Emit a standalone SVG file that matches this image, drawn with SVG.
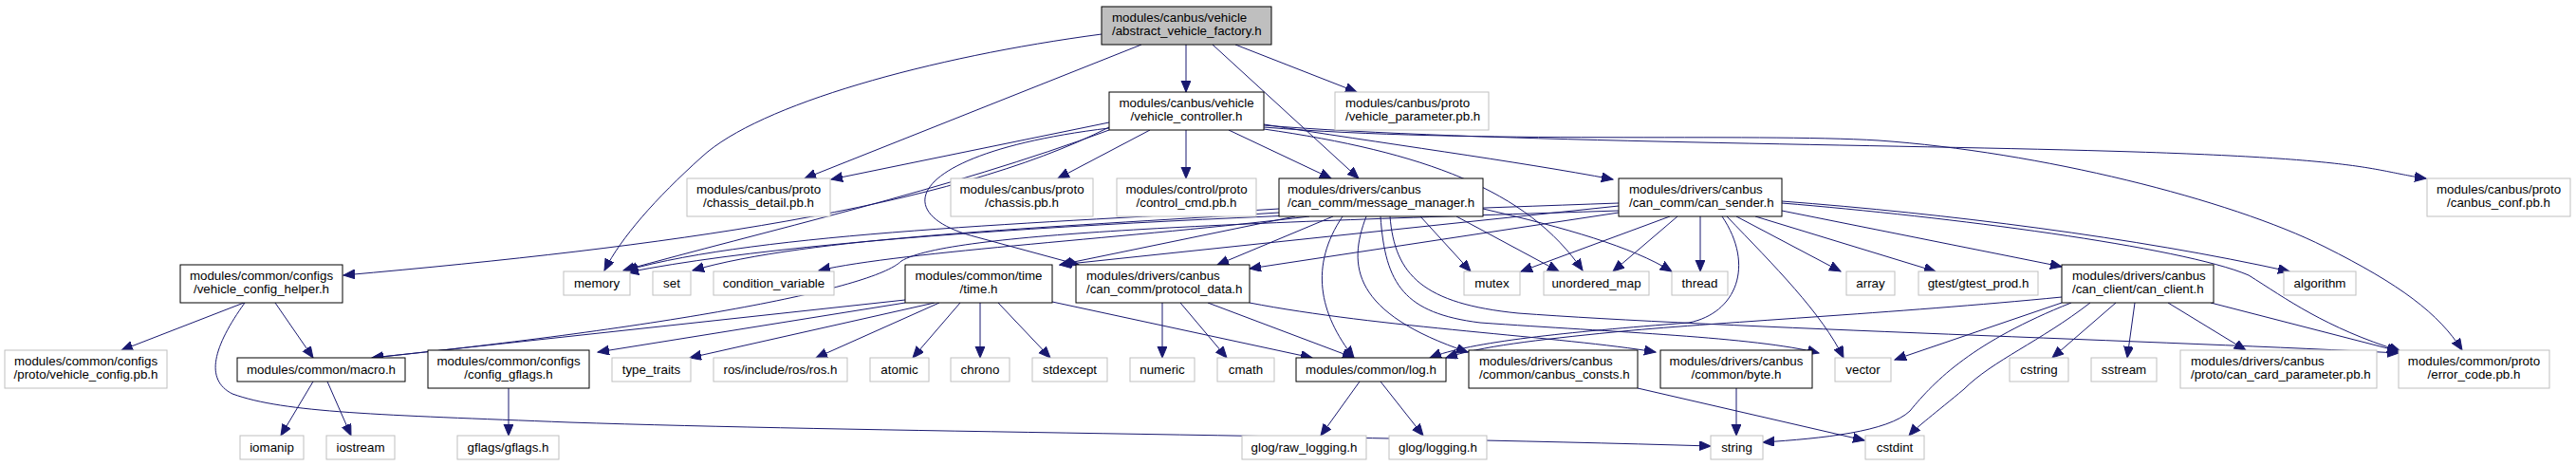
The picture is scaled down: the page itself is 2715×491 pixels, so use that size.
<svg xmlns="http://www.w3.org/2000/svg" width="2715" height="491" viewBox="0 0 2715 491">
<style>
.n rect{fill:#fff;stroke:#000;stroke-width:1}
.x rect{fill:#fff;stroke:#bfbfbf;stroke-width:1}
.r rect{fill:#bfbfbf;stroke:#000;stroke-width:1}
text{font-family:"Liberation Sans",Arial,Helvetica,sans-serif;font-size:13.33px;fill:#000}
.m{text-anchor:middle}
#edges path{fill:none;stroke:#191970;stroke-width:1;marker-end:url(#a)}
</style>
<defs>
<marker id="a" markerUnits="userSpaceOnUse" markerWidth="13" markerHeight="11" refX="12" refY="5" orient="auto" viewBox="0 0 13 11">
<path d="M0,0 L12,5 L0,10 z" fill="#191970" stroke="#191970"/>
</marker>
</defs>
<rect width="2715" height="491" fill="#fff"/>
<g id="edges">
<path d="M1161,36 C980,60 800,110 740,165 C690,210 655,250 637,285"/>
<path d="M1203,47 L848,188"/>
<path d="M1250,47 L1250,97"/>
<path d="M1278,47 L1432,188"/>
<path d="M1302,47 L1430,97"/>
<path d="M1169,129 L876,189"/>
<path d="M1212,137 L1115,188"/>
<path d="M1250,137 L1250,188"/>
<path d="M1295,137 L1403,188"/>
<path d="M1332,131 C1450,150 1600,170 1700,189"/>
<path d="M1332,132 C1550,150 2000,152 2250,160 S2500,180 2557,188"/>
<path d="M1332,134 C1550,152 1850,140 1980,148 C2150,160 2350,210 2450,260 C2530,300 2570,330 2595,369"/>
<path d="M1169,134 C1000,220 700,260 362,290"/>
<path d="M1169,137 C1000,200 800,245 657,285"/>
<path d="M1332,136 C1500,160 1610,200 1668,285"/>
<path d="M1169,135 C960,160 930,225 1030,250 L1137,279"/>
<path d="M1348,220 C1100,235 800,245 660,285"/>
<path d="M1348,224 C1100,240 850,250 730,285"/>
<path d="M1380,228 C1200,250 950,265 863,285"/>
<path d="M1497,228 L1550,286"/>
<path d="M1535,228 L1643,286"/>
<path d="M1563,220 C1650,240 1720,260 1762,286"/>
<path d="M1365,228 L1117,279"/>
<path d="M1405,228 L1283,279"/>
<path d="M1415,228 C1380,280 1390,330 1427,377"/>
<path d="M1440,228 C1420,280 1425,330 1547,371"/>
<path d="M1455,228 C1460,300 1480,330 1560,340 C1700,350 1850,355 1917,372"/>
<path d="M1465,228 C1470,290 1500,320 1600,330 C1800,345 2300,360 2528,372"/>
<path d="M1706,214 C1400,225 900,240 661,287"/>
<path d="M1706,217 L1117,279"/>
<path d="M1706,222 C1300,235 1000,245 950,275 C920,305 700,345 392,377"/>
<path d="M1760,228 L1603,286"/>
<path d="M1768,228 L1700,286"/>
<path d="M1792,228 L1792,286"/>
<path d="M1830,228 L1940,286"/>
<path d="M1850,228 L2040,286"/>
<path d="M1878,222 L2173,281"/>
<path d="M1878,212 C2050,225 2250,250 2413,286"/>
<path d="M1878,214 C2050,228 2300,260 2370,290 C2410,315 2450,345 2530,370"/>
<path d="M1820,228 C1870,280 1920,330 1943,377"/>
<path d="M1706,224 L1317,283"/>
<path d="M1815,228 C1850,280 1830,330 1780,340 C1650,350 1550,360 1507,377"/>
<path d="M257,319 L128,369"/>
<path d="M290,319 L330,377"/>
<path d="M258,319 C225,365 215,400 245,415 C300,435 400,437 600,445 C900,455 1400,458 1803,470"/>
<path d="M330,402 L296,459"/>
<path d="M345,402 L370,459"/>
<path d="M536,409 L536,459"/>
<path d="M954,316 L392,377"/>
<path d="M954,319 L630,371"/>
<path d="M985,319 L727,377"/>
<path d="M990,319 L860,377"/>
<path d="M1012,319 L962,377"/>
<path d="M1033,319 L1033,377"/>
<path d="M1052,319 L1107,377"/>
<path d="M1109,318 L1383,377"/>
<path d="M1225,319 L1225,377"/>
<path d="M1244,319 L1293,377"/>
<path d="M1273,319 L1427,377"/>
<path d="M1317,319 C1450,345 1650,355 1745,371"/>
<path d="M1433,402 L1392,459"/>
<path d="M1455,402 L1500,459"/>
<path d="M1726,409 L1965,464"/>
<path d="M1830,409 L1830,459"/>
<path d="M2173,313 C2000,330 1800,340 1700,350 C1620,358 1560,365 1524,377"/>
<path d="M2173,319 L1997,379"/>
<path d="M2183,319 C2080,360 2040,400 2013,433 C1990,455 1920,462 1858,466"/>
<path d="M2203,319 C2150,360 2100,380 2070,410 C2040,435 2020,450 2012,459"/>
<path d="M2230,319 L2163,377"/>
<path d="M2250,319 L2242,377"/>
<path d="M2285,319 L2367,369"/>
<path d="M2330,319 L2528,370"/>
</g>
<g id="n_avf" class="r"><rect x="1161" y="7" width="179" height="40"/><text x="1172" y="23">modules/canbus/vehicle</text><text x="1172" y="37">/abstract_vehicle_factory.h</text></g>
<g id="n_vc" class="n"><rect x="1169" y="97" width="163" height="40"/><text class="m" x="1250.5" y="113">modules/canbus/vehicle</text><text class="m" x="1250.5" y="127">/vehicle_controller.h</text></g>
<g id="n_vp" class="x"><rect x="1407" y="97" width="162" height="40"/><text x="1418" y="113">modules/canbus/proto</text><text x="1418" y="127">/vehicle_parameter.pb.h</text></g>
<g id="n_cd" class="x"><rect x="724" y="188" width="151" height="40"/><text class="m" x="799.5" y="204">modules/canbus/proto</text><text class="m" x="799.5" y="218">/chassis_detail.pb.h</text></g>
<g id="n_ch" class="x"><rect x="1002" y="188" width="150" height="40"/><text class="m" x="1077" y="204">modules/canbus/proto</text><text class="m" x="1077" y="218">/chassis.pb.h</text></g>
<g id="n_cc" class="x"><rect x="1177" y="188" width="147" height="40"/><text class="m" x="1250.5" y="204">modules/control/proto</text><text class="m" x="1250.5" y="218">/control_cmd.pb.h</text></g>
<g id="n_mm" class="n"><rect x="1348" y="188" width="215" height="40"/><text x="1357" y="204">modules/drivers/canbus</text><text x="1357" y="218">/can_comm/message_manager.h</text></g>
<g id="n_cs" class="n"><rect x="1706" y="188" width="172" height="40"/><text x="1717" y="204">modules/drivers/canbus</text><text x="1717" y="218">/can_comm/can_sender.h</text></g>
<g id="n_cf" class="x"><rect x="2558" y="188" width="151" height="40"/><text class="m" x="2633.5" y="204">modules/canbus/proto</text><text class="m" x="2633.5" y="218">/canbus_conf.pb.h</text></g>
<g id="n_vch" class="n"><rect x="190" y="279" width="171" height="40"/><text class="m" x="275.5" y="295">modules/common/configs</text><text class="m" x="275.5" y="309">/vehicle_config_helper.h</text></g>
<g id="n_memory" class="x"><rect x="594" y="286" width="70" height="25"/><text class="m" x="629" y="303">memory</text></g>
<g id="n_set" class="x"><rect x="688" y="286" width="40" height="25"/><text class="m" x="708" y="303">set</text></g>
<g id="n_condvar" class="x"><rect x="752" y="286" width="127" height="25"/><text class="m" x="815.5" y="303">condition_variable</text></g>
<g id="n_time" class="n"><rect x="954" y="279" width="155" height="40"/><text class="m" x="1031.5" y="295">modules/common/time</text><text class="m" x="1031.5" y="309">/time.h</text></g>
<g id="n_pd" class="n"><rect x="1134" y="279" width="183" height="40"/><text x="1145" y="295">modules/drivers/canbus</text><text x="1145" y="309">/can_comm/protocol_data.h</text></g>
<g id="n_mutex" class="x"><rect x="1543" y="286" width="59" height="25"/><text class="m" x="1572.5" y="303">mutex</text></g>
<g id="n_um" class="x"><rect x="1627" y="286" width="111" height="25"/><text class="m" x="1682.5" y="303">unordered_map</text></g>
<g id="n_thread" class="x"><rect x="1762" y="286" width="59" height="25"/><text class="m" x="1791.5" y="303">thread</text></g>
<g id="n_array" class="x"><rect x="1946" y="286" width="51" height="25"/><text class="m" x="1971.5" y="303">array</text></g>
<g id="n_gtest" class="x"><rect x="2022" y="286" width="126" height="25"/><text class="m" x="2085" y="303">gtest/gtest_prod.h</text></g>
<g id="n_ccl" class="n"><rect x="2173" y="279" width="160" height="40"/><text x="2184" y="295">modules/drivers/canbus</text><text x="2184" y="309">/can_client/can_client.h</text></g>
<g id="n_algorithm" class="x"><rect x="2407" y="286" width="76" height="25"/><text class="m" x="2445" y="303">algorithm</text></g>
<g id="n_vcpb" class="x"><rect x="5" y="369" width="171" height="40"/><text class="m" x="90.5" y="385">modules/common/configs</text><text class="m" x="90.5" y="399">/proto/vehicle_config.pb.h</text></g>
<g id="n_macro" class="n"><rect x="250" y="377" width="177" height="25"/><text class="m" x="338.5" y="394">modules/common/macro.h</text></g>
<g id="n_cg" class="n"><rect x="451" y="369" width="170" height="40"/><text class="m" x="536" y="385">modules/common/configs</text><text class="m" x="536" y="399">/config_gflags.h</text></g>
<g id="n_tt" class="x"><rect x="645" y="377" width="83" height="25"/><text class="m" x="686.5" y="394">type_traits</text></g>
<g id="n_ros" class="x"><rect x="752" y="377" width="141" height="25"/><text class="m" x="822.5" y="394">ros/include/ros/ros.h</text></g>
<g id="n_atomic" class="x"><rect x="917" y="377" width="62" height="25"/><text class="m" x="948" y="394">atomic</text></g>
<g id="n_chrono" class="x"><rect x="1002" y="377" width="62" height="25"/><text class="m" x="1033" y="394">chrono</text></g>
<g id="n_stdexcept" class="x"><rect x="1088" y="377" width="79" height="25"/><text class="m" x="1127.5" y="394">stdexcept</text></g>
<g id="n_numeric" class="x"><rect x="1191" y="377" width="68" height="25"/><text class="m" x="1225" y="394">numeric</text></g>
<g id="n_cmath" class="x"><rect x="1283" y="377" width="60" height="25"/><text class="m" x="1313" y="394">cmath</text></g>
<g id="n_log" class="n"><rect x="1366" y="377" width="158" height="25"/><text class="m" x="1445" y="394">modules/common/log.h</text></g>
<g id="n_bc" class="n"><rect x="1548" y="369" width="178" height="40"/><text x="1559" y="385">modules/drivers/canbus</text><text x="1559" y="399">/common/canbus_consts.h</text></g>
<g id="n_byte" class="n"><rect x="1750" y="369" width="160" height="40"/><text class="m" x="1830" y="385">modules/drivers/canbus</text><text class="m" x="1830" y="399">/common/byte.h</text></g>
<g id="n_vector" class="x"><rect x="1934" y="377" width="59" height="25"/><text class="m" x="1963.5" y="394">vector</text></g>
<g id="n_cstring" class="x"><rect x="2118" y="377" width="62" height="25"/><text class="m" x="2149" y="394">cstring</text></g>
<g id="n_sstream" class="x"><rect x="2204" y="377" width="69" height="25"/><text class="m" x="2238.5" y="394">sstream</text></g>
<g id="n_ccp" class="x"><rect x="2298" y="369" width="207" height="40"/><text x="2309" y="385">modules/drivers/canbus</text><text x="2309" y="399">/proto/can_card_parameter.pb.h</text></g>
<g id="n_ec" class="x"><rect x="2528" y="369" width="159" height="40"/><text class="m" x="2607.5" y="385">modules/common/proto</text><text class="m" x="2607.5" y="399">/error_code.pb.h</text></g>
<g id="n_iomanip" class="x"><rect x="253" y="459" width="67" height="25"/><text class="m" x="286.5" y="476">iomanip</text></g>
<g id="n_iostream" class="x"><rect x="344" y="459" width="72" height="25"/><text class="m" x="380" y="476">iostream</text></g>
<g id="n_gflags" class="x"><rect x="482" y="459" width="107" height="25"/><text class="m" x="535.5" y="476">gflags/gflags.h</text></g>
<g id="n_rawlog" class="x"><rect x="1309" y="459" width="131" height="25"/><text class="m" x="1374.5" y="476">glog/raw_logging.h</text></g>
<g id="n_logging" class="x"><rect x="1464" y="459" width="103" height="25"/><text class="m" x="1515.5" y="476">glog/logging.h</text></g>
<g id="n_string" class="x"><rect x="1803" y="459" width="55" height="25"/><text class="m" x="1830.5" y="476">string</text></g>
<g id="n_cstdint" class="x"><rect x="1966" y="459" width="62" height="25"/><text class="m" x="1997" y="476">cstdint</text></g>
</svg>
